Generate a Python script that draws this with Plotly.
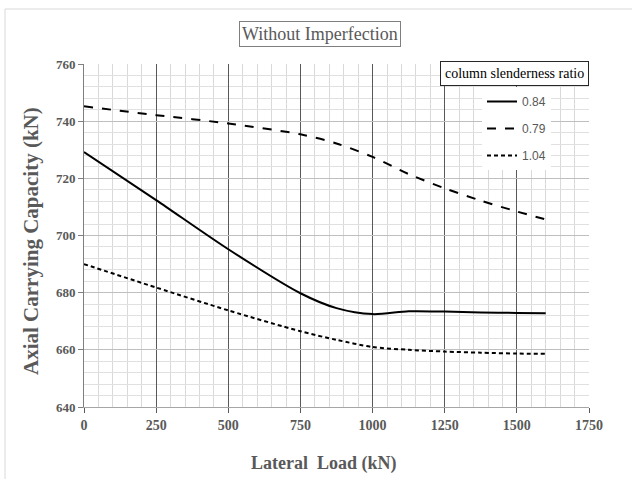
import plotly.graph_objects as go

# ---- data ----
lateral_load = [0, 250, 500, 750, 875, 1000, 1125, 1250, 1375, 1500, 1600]
ratio_084 = [729.2, 712.4, 695.2, 679.8, 674.6, 672.5, 673.5, 673.4, 673.1, 672.9, 672.8]
ratio_079 = [745.2, 742.1, 739.2, 735.4, 732.2, 727.5, 721.5, 716.5, 712.2, 708.4, 705.6]
ratio_104 = [690.0, 681.8, 673.8, 666.5, 663.5, 661.0, 660.0, 659.4, 659.0, 658.7, 658.6]
series_names = ["0.84", "0.79", "1.04"]
series_dash = ["solid", "dash", "4px,3px"]

title_text = "Without Imperfection"
legend_title = "column slenderness ratio"
x_title = "Lateral  Load (kN)"
y_title = "Axial Carrying Capacity (kN)"

SERIF = "Liberation Serif, Times New Roman, serif"
GRAY = "#595959"

fig = go.Figure()
for i, (name, vals, dash) in enumerate(zip(series_names, [ratio_084, ratio_079, ratio_104], series_dash)):
    fig.add_trace(go.Scatter(
        x=lateral_load, y=vals, name=name, mode="lines",
        line=dict(color="black", width=2, dash=dash, shape="spline", smoothing=0.8),
        legendgroup=f"g{i}",
    ))

W, H = 632, 479
L, R, T, B = 84, 43, 64, 72
pw, ph = W - L - R, H - T - B

def px_x(px):
    return (px - L) / pw

def px_y(py):
    return (H - B - py) / ph

fig.update_layout(
    width=W, height=H,
    margin=dict(l=L, r=R, t=T, b=B, autoexpand=False),
    paper_bgcolor="white", plot_bgcolor="white",
    showlegend=True,
    legend=dict(
        x=px_x(482), y=px_y(87), xanchor="left", yanchor="top",
        bgcolor="white", borderwidth=0,
        font=dict(family="Liberation Sans, Arial, sans-serif", size=12, color=GRAY),
        tracegroupgap=8, itemwidth=30,
    ),
    xaxis=dict(
        range=[0, 1750], dtick=250, tick0=0, automargin=False,
        showgrid=True, gridcolor="#595959", gridwidth=1,
        minor=dict(dtick=50, showgrid=True, gridcolor="#d9d9d9", gridwidth=1),
        showline=True, linecolor="#a6a6a6", linewidth=1,
        ticks="outside", ticklen=5, tickcolor="#595959",
        tickfont=dict(family=SERIF, size=14, color=GRAY, weight="bold"),
        zeroline=False,
    ),
    yaxis=dict(
        range=[640, 760], dtick=20, tick0=640, automargin=False,
        showgrid=True, gridcolor="#bfbfbf", gridwidth=1,
        minor=dict(dtick=4, showgrid=True, gridcolor="#e0e0e0", gridwidth=1),
        showline=True, linecolor="#7f7f7f", linewidth=1,
        ticks="outside", ticklen=5, tickcolor="#7f7f7f",
        tickfont=dict(family=SERIF, size=13, color=GRAY, weight="bold"),
        zeroline=False,
    ),
    annotations=[
        dict(text=title_text, xref="paper", yref="paper", x=px_x(320), y=px_y(34),
             xanchor="center", yanchor="middle", showarrow=False,
             font=dict(family=SERIF, size=18, color=GRAY),
             bordercolor="#7f7f7f", borderwidth=1, borderpad=2, bgcolor="white"),
        dict(text=legend_title, xref="paper", yref="paper", x=1.0, y=px_y(73.5),
             xanchor="right", yanchor="middle", showarrow=False,
             font=dict(family=SERIF, size=14, color="black"),
             bordercolor="#262626", borderwidth=1, borderpad=4, bgcolor="white"),
        dict(text=x_title, xref="paper", yref="paper", x=px_x(324), y=px_y(463),
             xanchor="center", yanchor="middle", showarrow=False,
             font=dict(family=SERIF, size=18, color=GRAY, weight="bold")),
        dict(text=y_title, xref="paper", yref="paper", x=px_x(31), y=px_y(241),
             xanchor="center", yanchor="middle", showarrow=False, textangle=-90,
             font=dict(family=SERIF, size=21, color=GRAY, weight="bold")),
    ],
    shapes=[
        dict(type="line", xref="paper", yref="paper", x0=px_x(5), x1=px_x(640),
             y0=px_y(9), y1=px_y(9), line=dict(color="#d9d9d9", width=1)),
        dict(type="line", xref="paper", yref="paper", x0=px_x(5), x1=px_x(5),
             y0=px_y(9), y1=px_y(490), line=dict(color="#d9d9d9", width=1)),
    ],
)

fig.write_html("out.html", config={"displayModeBar": False},
               post_script="document.body.style.margin='0';")
